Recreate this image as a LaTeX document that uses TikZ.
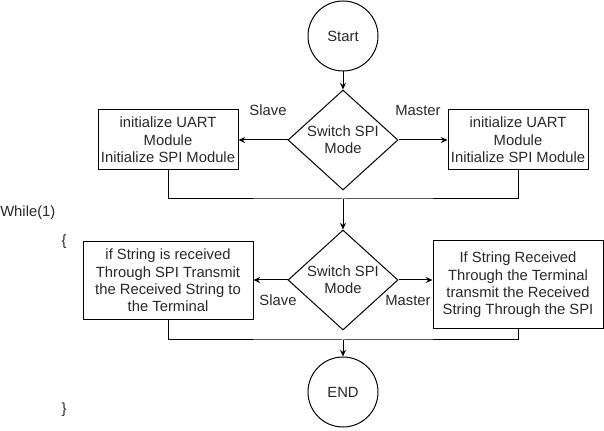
\documentclass[tikz,border=0pt]{standalone}
\usepackage{fontspec}
\setmainfont{Liberation Sans}
\usetikzlibrary{arrows.meta, positioning, shapes.geometric, calc}
\definecolor{txtcolor}{RGB}{40, 40, 40}
\tikzset{
	procblock/.style={
		rectangle, draw=black, line width=0.75pt,
		inner sep=0pt, align=center, text=txtcolor,
		font=\fontsize{11.1}{13}\selectfont
	},
	termblock/.style={
		circle, draw=black, line width=0.75pt,
		minimum size=52.5pt, inner sep=0pt, text=txtcolor,
		font=\fontsize{11.1}{13}\selectfont
	},
	decblock/.style={
		diamond, draw=black, line width=0.75pt,
		minimum width=82.5pt, minimum height=75pt, inner sep=0pt,
		align=center, text=txtcolor,
		font=\fontsize{11.1}{13}\selectfont
	},
	lbl/.style={
		inner sep=0pt, text=txtcolor,
		font=\fontsize{11.1}{13}\selectfont
	},
	arrow/.style={
		-{Stealth[length=5pt, width=4.5pt]}, line width=0.75pt
	},
	plainline/.style={line width=0.75pt}
}
\begin{document}
\begin{tikzpicture}[x=0.75pt, y=-0.75pt]
		\useasboundingbox (0,0) rectangle (604,431);
		%% ===============================
		%%  START + FIRST SWITCH
		%% ===============================
		\node[termblock] (start) at (343,36) {Start};
		\node[decblock] (swinit) at (343,140) {Switch SPI\\Mode};
		
		\node[procblock, minimum width=105pt, minimum height=45pt]
		(slaveinit) at (168,140) {initialize UART\\Module\\Initialize SPI Module};
		\node[procblock, minimum width=105pt, minimum height=45pt]
		(masterinit) at (518,140) {initialize UART\\Module\\Initialize SPI Module};
		
		\node[lbl] (slavelbl) at (268,110) {Slave};
		\node[lbl] (masterlbl) at (418,110) {Master};
		
		\coordinate (joininit) at (343,199);
		
		%% ===============================
		%%  LOOP
		%% ===============================
		\node[lbl, anchor=west] (whilelbl) at (0,213) {While(1)};
		\node[lbl] (openbr) at (64,242) {\{};
		\node[lbl] (closebr) at (64,410) {\}};
		
		\node[decblock] (swloop) at (343,280) {Switch SPI\\Mode};
		
		\node[procblock, minimum width=127.5pt, minimum height=59pt]
		(slaveloop) at (168,280.5) {if String is received\\Through SPI Transmit\\the Received String to\\the Terminal};
		\node[procblock, minimum width=127.5pt, minimum height=66pt]
		(masterloop) at (518,285) {If String Received\\Through the Terminal\\transmit the Received\\String Through the SPI};
		
		\node[lbl] (slavelbl2) at (278,300) {Slave};
		\node[lbl] (masterlbl2) at (408,300) {Master};
		
		\coordinate (joinloop) at (343,340);
		
		%% ===============================
		%%  END
		%% ===============================
		\node[termblock] (end) at (343,392) {END};
		
		%% ===============================
		%%  ARROWS
		%% ===============================
		\draw[arrow] (start.south) -- (swinit.north);
		\draw[arrow] (swinit.west) -- (slaveinit.east);
		\draw[arrow] (swinit.east) -- (masterinit.west);
		
		% both branches join
		\draw[plainline] (slaveinit.south) |- (joininit) -| (masterinit.south);
		\draw[arrow] (joininit) -- (swloop.north);
		
		\draw[arrow] (swloop.west) -- (slaveloop.east |- swloop.west);
		\draw[arrow] (swloop.east) -- (masterloop.west |- swloop.east);
		
		% both branches join
		\draw[plainline] (slaveloop.south) |- (joinloop) -| (masterloop.south);
		\draw[arrow] (joinloop) -- (end.north);
		
\end{tikzpicture}
\end{document}
